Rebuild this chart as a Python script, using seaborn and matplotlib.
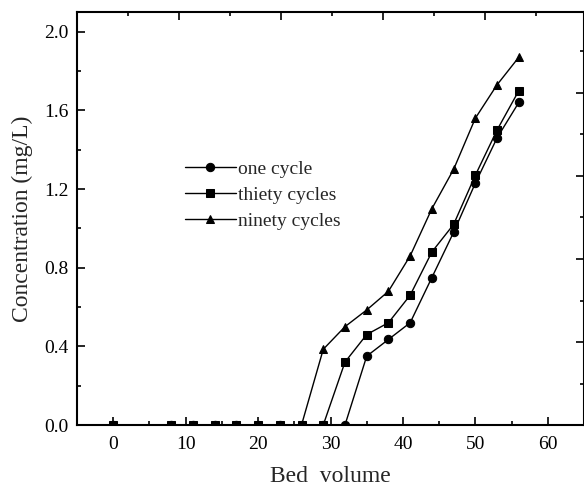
import numpy as np
import pandas as pd
import matplotlib
matplotlib.use("Agg")
import matplotlib.pyplot as plt
from matplotlib.ticker import MultipleLocator, NullFormatter
import seaborn as sns

# --- data ---
bed_volume = [0, 8, 11, 14, 17, 20, 23, 26, 29, 32, 35, 38, 41, 44, 47, 50, 53, 56]
one_cycle = [0, 0, 0, 0, 0, 0, 0, 0, 0, 0, 0.35, 0.435, 0.52, 0.75, 0.98, 1.23, 1.46, 1.64]
thirty_cycles = [0, 0, 0, 0, 0, 0, 0, 0, 0, 0.32, 0.46, 0.52, 0.66, 0.88, 1.02, 1.27, 1.50, 1.70]
ninety_cycles = [0, 0, 0, 0, 0, 0, 0, 0, 0.385, 0.50, 0.585, 0.68, 0.86, 1.10, 1.30, 1.56, 1.73, 1.87]
series_names = ["one cycle", "thiety cycles", "ninety cycles"]

df = pd.DataFrame({
    "Bed volume": bed_volume * 3,
    "Concentration": one_cycle + thirty_cycles + ninety_cycles,
    "series": [n for n in series_names for _ in bed_volume],
})

sns.set_theme(style="ticks")
plt.rcParams["font.family"] = ["Liberation Serif", "DejaVu Serif"]

fig = plt.figure(figsize=(5.84, 4.94), dpi=100)
ax = fig.add_axes([77 / 584, 69 / 494, 507 / 584, 413 / 494])

sns.lineplot(data=df, x="Bed volume", y="Concentration", hue="series", style="series",
             markers={"one cycle": "o", "thiety cycles": "s", "ninety cycles": "^"},
             dashes=False, palette=["black"] * 3, sort=False, ax=ax,
             linewidth=1.0, markersize=6, markeredgecolor="black", legend=True)

ax.set_xticks(range(0, 70, 10))
ax.set_xlim(-5, 65)
ax.set_ylim(0, 2.1)
ax.xaxis.set_minor_locator(MultipleLocator(5))
ax.set_yticks(np.arange(0, 2.01, 0.4))
ax.set_yticklabels([f"{v:.1f}" for v in np.arange(0, 2.01, 0.4)])
ax.yaxis.set_minor_locator(MultipleLocator(0.2))
ax.tick_params(which="both", direction="in", width=1.2, colors="black", labelsize=14)
ax.tick_params(which="major", length=6)
ax.tick_params(which="minor", length=3)
ax.tick_params(axis="x", pad=8)
ax.tick_params(axis="y", pad=6)
for s in ax.spines.values():
    s.set_linewidth(1.5)
    s.set_color("black")

ax.set_xlabel("Bed  volume", fontsize=17, labelpad=9)
ax.set_ylabel("Concentration (mg/L)", fontsize=17, labelpad=8)

# secondary axes of the cropped original figure (ticks only)
top = ax.twiny()
top.set_xlim(0, 507 / 102)
top.xaxis.set_major_locator(MultipleLocator(1))
top.xaxis.set_minor_locator(MultipleLocator(0.5))
top.xaxis.set_major_formatter(NullFormatter())
right = ax.twinx()
right.set_ylim(0, 413 / 83)
right.yaxis.set_major_locator(MultipleLocator(1))
right.yaxis.set_minor_locator(MultipleLocator(0.5))
right.yaxis.set_major_formatter(NullFormatter())
for a in (top, right):
    a.tick_params(which="both", direction="in", width=1.2, colors="black")
    a.tick_params(which="major", length=6)
    a.tick_params(which="minor", length=3)
    a.grid(False)
    for s in a.spines.values():
        s.set_visible(False)

handles, labels = ax.get_legend_handles_labels()
ax.legend(handles, labels, loc="upper left", bbox_to_anchor=(0.213, 0.641), frameon=False,
          fontsize=14, handlelength=2.6, handletextpad=0.15, labelspacing=0.43,
          borderpad=0, borderaxespad=0)

fig.savefig("out.png", dpi=100)
